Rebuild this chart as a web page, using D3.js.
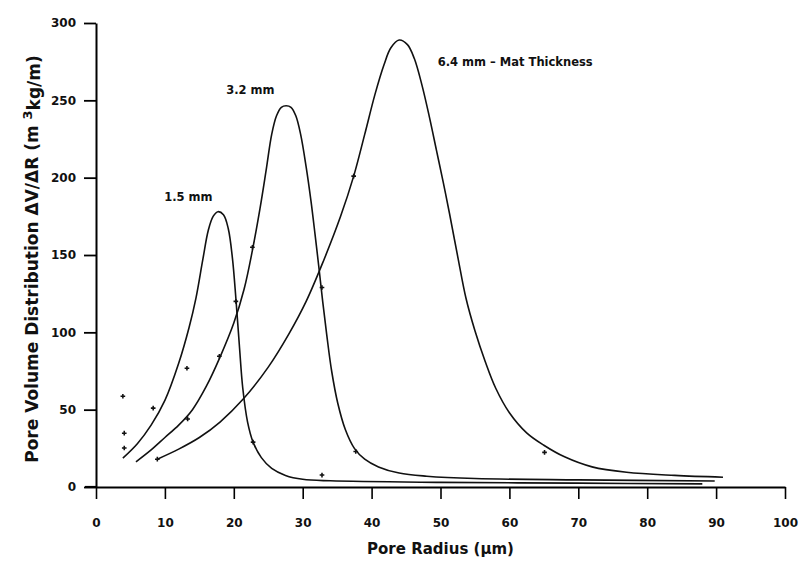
<!DOCTYPE html>
<html lang="en">
<head>
<meta charset="UTF-8">
<title>Pore volume distribution</title>
<script src="https://d3js.org/d3.v7.min.js"></script>
<style>
  body { margin: 0; background: #fff; }
  svg text { font-family: "DejaVu Sans", sans-serif; font-weight: bold; fill: #111; }
</style>
</head>
<body>
<svg id="chart" width="802" height="568"></svg>
<script>
var xTicks = [0, 10, 20, 30, 40, 50, 60, 70, 80, 90, 100];
var yTicks = [0, 50, 100, 150, 200, 250, 300];

// [pore radius (um), dV/dR]
var curve15 = [[3.9,18.7],[6,28],[8,40],[10,56],[12,80],[13.5,103],[14.5,122],[15.5,147],[16.3,166],[17,175],
  [17.7,178],[18.5,176],[19.2,167],[19.8,148],[20.3,122],[20.8,92],[21.3,64],[22,42],[22.8,29],[24,19],
  [25.5,12],[27.5,7.5],[30,5],[34,4],[50,3],[70,2.5],[88,2]];
var curve32 = [[5.8,16.3],[8,24],[10,32],[12,40],[14,50],[16,65],[18,84],[20,106],[21.5,128],[22.7,153],
  [23.8,180],[24.7,205],[25.5,228],[26.2,240],[26.9,245.5],[27.6,246.5],[28.3,245.5],[29,240],[29.7,228],
  [30.5,207],[31.2,185],[31.8,163],[32.4,140],[32.9,120],[33.5,98],[34.2,75],[35.1,54],[36.2,37],[37.5,25],
  [39,18],[41,13],[44,9],[48,7],[55,5.5],[70,4.6],[89.8,3.9]];
var curve64 = [[8.9,18],[12,24.5],[15,32],[18,42],[21.4,57],[25,77.5],[28,99],[30.5,120],[33,146],[35.5,175],
  [37.4,201],[39,228],[40.5,254],[41.8,273],[42.8,284],[44,289],[45.2,286],[46.2,277],[47.3,260],[48.4,239],
  [49.4,218],[50.4,197],[51.3,177],[52.5,149],[53.7,122],[55,101],[56.5,81],[58,64],[60,48],[62.5,35],
  [65,27],[68,19.5],[72,13],[77,9.5],[84,7.5],[91,6.3]];

// measured points scattered around the curves
var marks = [[3.9,58.7],[4.1,34.8],[4.1,25.2],[8.3,51],[13.2,76.8],[13.3,44],[17.9,84.5],[8.9,18],[20.3,120],
  [22.7,155],[22.8,29],[32.8,129],[32.8,7.7],[37.4,201],[37.7,23],[65.1,22.4]];

var labelText = ["1.5 mm", "3.2 mm", "6.4 mm \u2013 Mat Thickness"];
var labelAt = [[9.9,185],[18.9,254],[49.6,272]];

var svg = d3.select("#chart");
svg.append("rect").attr("width", 802).attr("height", 568).attr("fill", "#fff");

var x = d3.scaleLinear().domain([0, 100]).range([96, 785]);
var y = d3.scaleLinear().domain([0, 300]).range([487, 23]);

// y axis
var yAxis = svg.append("g")
    .attr("transform", "translate(" + x(0) + ",0)")
    .call(d3.axisLeft(y).tickValues(yTicks).tickSize(12).tickSizeOuter(0).tickPadding(8));
yAxis.select(".domain").attr("stroke-width", 2);
yAxis.selectAll(".tick line").attr("stroke-width", 1.8);
yAxis.selectAll("text").style("font-size", "12px");

// x axis
var xAxis = svg.append("g")
    .attr("transform", "translate(0," + y(0) + ")")
    .call(d3.axisBottom(x).tickValues(xTicks).tickSize(12).tickSizeOuter(0).tickPadding(19));
xAxis.select(".domain").attr("stroke-width", 2.2);
xAxis.selectAll(".tick line").attr("stroke-width", 1.6);
xAxis.selectAll("text").style("font-size", "12px");
svg.append("line")
    .attr("x1", x(0) - 11).attr("x2", x(0))
    .attr("y1", y(0)).attr("y2", y(0))
    .attr("stroke", "#000").attr("stroke-width", 2.2);

// axis titles
svg.append("text")
    .attr("x", (x(0) + x(100)) / 2)
    .attr("y", 554)
    .attr("text-anchor", "middle")
    .style("font-size", "15px")
    .text("Pore Radius (\u00b5m)");

var yt = svg.append("text")
    .attr("transform", "translate(38,259) rotate(-90)")
    .attr("text-anchor", "middle")
    .style("font-size", "17px");
yt.append("tspan").text("Pore Volume Distribution \u0394V/\u0394R (m ");
yt.append("tspan").attr("dy", "-0.45em").style("font-size", "13px").text("3");
yt.append("tspan").attr("dy", "0.45em").text("kg/m)");

// curves
var line = d3.line()
    .x(function(d){ return x(d[0]); })
    .y(function(d){ return y(d[1]); })
    .curve(d3.curveCatmullRom.alpha(0.5));

[curve15, curve32, curve64].forEach(function(c){
    svg.append("path")
        .datum(c)
        .attr("d", line)
        .attr("fill", "none")
        .attr("stroke", "#111")
        .attr("stroke-width", 1.6);
});

svg.selectAll("path.mark")
    .data(marks)
    .enter()
    .append("path")
    .attr("class", "mark")
    .attr("transform", function(d){ return "translate(" + x(d[0]) + "," + y(d[1]) + ")"; })
    .attr("d", d3.symbol(d3.symbolCross).size(12))
    .attr("fill", "#111");

svg.selectAll("text.lbl")
    .data(labelText)
    .enter()
    .append("text")
    .attr("class", "lbl")
    .attr("x", function(d, i){ return x(labelAt[i][0]); })
    .attr("y", function(d, i){ return y(labelAt[i][1]); })
    .style("font-size", "11.5px")
    .text(function(d){ return d; });
</script>
</body>
</html>
